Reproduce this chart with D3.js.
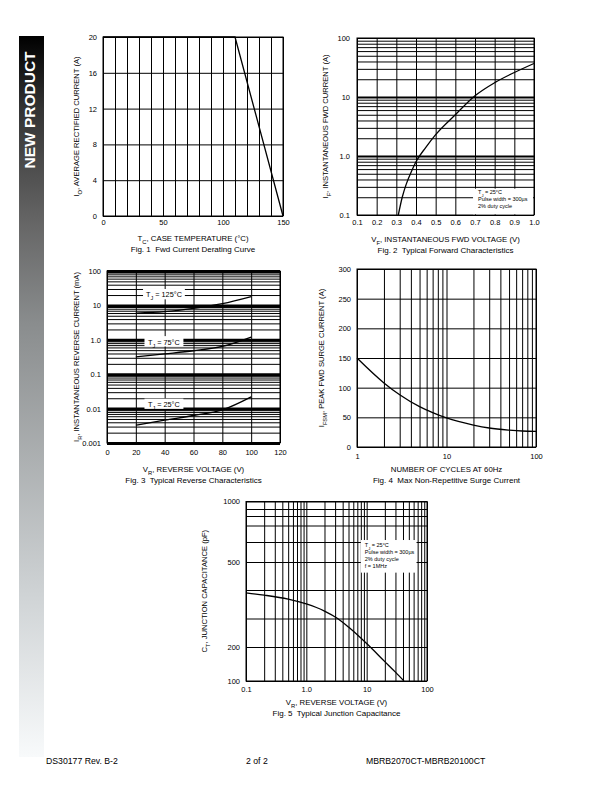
<!DOCTYPE html>
<html>
<head>
<meta charset="utf-8">
<script src="https://cdn.jsdelivr.net/npm/d3@7"></script>
<style>
  body { margin: 0; background: #fff; }
  svg { display: block; font-family: "Liberation Sans", Arial, sans-serif; }
  .tick text { font-size: 7.5px; fill: #000; }
</style>
</head>
<body>
<script>
// ---- data ----
var fig1_temp = [0, 110, 150];
var fig1_io = [20, 20, 0];

var fig2_vf = [0.31, 0.33, 0.35, 0.38, 0.40, 0.45, 0.50, 0.60, 0.70, 0.80, 0.90, 1.00];
var fig2_if = [0.1, 0.2, 0.33, 0.58, 0.8, 1.4, 2.3, 5.0, 10.5, 17.5, 26, 37];

var fig3_vr = [20, 40, 60, 80, 100];
var fig3_125 = [6.0, 6.6, 8.2, 11.2, 18];
var fig3_75 = [0.32, 0.39, 0.48, 0.64, 1.2];
var fig3_25 = [0.0033, 0.0046, 0.0063, 0.0092, 0.022];

var fig4_cycles = [1, 2, 3, 5, 7, 10, 20, 30, 50, 70, 100];
var fig4_ifsm = [150, 108, 88, 68, 58, 49, 37, 32, 28.5, 27, 26.5];

var fig5_vr = [0.1, 0.2, 0.5, 1, 2, 3.3, 5, 10, 20, 30, 41.5];
var fig5_ct = [390, 382, 368, 351, 326, 300, 270, 212, 157, 126, 100];

// tick labels
var fig1_xt = [0, 50, 100, 150], fig1_yt = [0, 4, 8, 12, 16, 20];
var fig2_xt = [0.1, 0.2, 0.3, 0.4, 0.5, 0.6, 0.7, 0.8, 0.9, 1.0], fig2_yt = [0.1, 1, 10, 100];
var fig2_ylab = ["0.1", "1.0", "10", "100"];
var fig3_xt = [0, 20, 40, 60, 80, 100, 120], fig3_yt = [0.001, 0.01, 0.1, 1, 10, 100];
var fig3_ylab = ["0.001", "0.01", "0.1", "1.0", "10", "100"];
var fig4_xt = [1, 10, 100], fig4_yt = [0, 50, 100, 150, 200, 250, 300];
var fig5_xt = [0.1, 1, 10, 100], fig5_xlab = ["0.1", "1.0", "10", "100"], fig5_yt = [100, 200, 500, 1000];
var fig5_ygrid = [100, 200, 300, 400, 500, 600, 700, 800, 900, 1000];

function logGrid(lo, hi) {
    var out = [];
    for (var d = lo; d < hi * 0.999; d *= 10)
        for (var m = 1; m < 10; m++) out.push(d * m);
    out.push(hi);
    return out;
}

var svg = d3.select("body").append("svg").attr("width", 612).attr("height", 792);

// side banner
var grad = svg.append("defs").append("linearGradient").attr("id", "side")
    .attr("x1", 0).attr("y1", 0).attr("x2", 0).attr("y2", 1);
[[0, "#000"], [0.1, "#333"], [0.26, "#666"], [0.4, "#8a8d8e"], [0.78, "#d0d4d6"], [1, "#f8fafb"]]
    .forEach(function (s) { grad.append("stop").attr("offset", s[0]).attr("stop-color", s[1]); });
svg.append("rect").attr("x", 19).attr("y", 36).attr("width", 25).attr("height", 721).attr("fill", "url(#side)");
svg.append("text").attr("transform", "translate(34.5,110) rotate(-90)")
    .attr("text-anchor", "middle").attr("fill", "#fff")
    .style("font-size", "15.5px").style("font-weight", "bold").text("NEW PRODUCT");

// text with subscript: parts = [[text, isSub], ...]
function richText(g, parts, size) {
    parts.forEach(function (p) {
        var t = g.append("tspan").text(p[0]);
        if (p[1]) t.attr("baseline-shift", "sub").style("font-size", (size * 0.75) + "px");
    });
}

function panel(c) {
    var g = svg.append("g");
    var x = c.x, y = c.y;
    var x0 = x.range()[0], x1 = x.range()[x.range().length - 1];
    var y0 = d3.min(y.range()), y1 = d3.max(y.range());

    // grid lines through axes
    g.append("g").attr("transform", "translate(0," + y1 + ")")
        .call(d3.axisBottom(x).tickValues(c.xGrid).tickSize(-(y1 - y0)).tickFormat(""))
        .call(function (s) {
            s.select(".domain").remove();
            s.selectAll("line").attr("stroke", "#000").attr("stroke-width", function (d) { return c.xw ? c.xw(d) : 1; });
        });
    g.append("g").attr("transform", "translate(" + x0 + ",0)")
        .call(d3.axisLeft(y).tickValues(c.yGrid).tickSize(-(x1 - x0)).tickFormat(""))
        .call(function (s) {
            s.select(".domain").remove();
            s.selectAll("line").attr("stroke", "#000").attr("stroke-width", function (d) { return c.yw ? c.yw(d) : 1; });
        });

    g.append("rect").attr("x", x0).attr("y", y0).attr("width", x1 - x0).attr("height", y1 - y0)
        .attr("fill", "none").attr("stroke", "#000").attr("stroke-width", 1);

    // tick labels
    g.append("g").attr("transform", "translate(0," + y1 + ")")
        .call(d3.axisBottom(x).tickValues(c.xt).tickSize(0).tickPadding(c.xpad || 5)
            .tickFormat(function (d, i) { return c.xlab ? c.xlab[i] : d; }))
        .call(function (s) { s.select(".domain").remove(); });
    g.append("g").attr("transform", "translate(" + x0 + ",0)")
        .call(d3.axisLeft(y).tickValues(c.yt).tickSize(0).tickPadding(c.ypad || 5)
            .tickFormat(function (d, i) { return c.ylab ? c.ylab[i] : d; }))
        .call(function (s) { s.select(".domain").remove(); });

    // boxes over the grid
    (c.boxes || []).forEach(function (b) {
        var bx = x(b.x[0]), by = y(b.y[1]);
        g.append("rect").attr("x", bx).attr("y", by)
            .attr("width", x(b.x[1]) - bx).attr("height", y(b.y[0]) - by).attr("fill", "#fff");
        b.lines.forEach(function (ln, i) {
            var t = g.append("text").attr("x", bx + (b.pad || 3)).attr("y", by + b.first + i * b.step)
                .style("font-size", b.size + "px");
            richText(t, ln, b.size);
        });
    });

    // curves
    var line = d3.line().x(function (d) { return x(d[0]); }).y(function (d) { return y(d[1]); })
        .curve(c.curve || d3.curveMonotoneX);
    c.series.forEach(function (s) {
        g.append("path").datum(d3.zip(s.x, s.y)).attr("d", line)
            .attr("fill", "none").attr("stroke", "#000").attr("stroke-width", 1.3);
    });

    // axis titles
    var xt = g.append("text").attr("x", c.xtx || (x0 + x1) / 2).attr("y", c.xty)
        .attr("text-anchor", "middle").style("font-size", "7.8px");
    richText(xt, c.xtitle, 7.8);
    g.append("text").attr("x", c.capx || (x0 + x1) / 2).attr("y", c.xty + 11)
        .attr("text-anchor", "middle").style("font-size", "8px").attr("xml:space", "preserve").text(c.caption);
    var yt = g.append("text").attr("transform", "translate(" + c.ytx + "," + (y0 + y1) / 2 + ") rotate(-90)")
        .attr("text-anchor", "middle").style("font-size", "7.6px");
    richText(yt, c.ytitle, 7.6);
}

// Fig. 1
panel({
    x: d3.scaleLinear().domain([0, 150]).range([103, 283]),
    y: d3.scaleLinear().domain([0, 20]).range([216, 37]),
    xGrid: d3.range(0, 151, 10), yGrid: fig1_yt,
    xt: fig1_xt, yt: fig1_yt, xpad: 4, ypad: 6,
    curve: d3.curveLinear,
    series: [{ x: fig1_temp, y: fig1_io }],
    xtitle: [["T", 0], ["C", 1], [", CASE TEMPERATURE (°C)", 0]], xty: 240.5,
    caption: "Fig. 1  Fwd Current Derating Curve",
    ytitle: [["I", 0], ["O", 1], [", AVERAGE RECTIFIED CURRENT (A)", 0]], ytx: 79
});

// Fig. 2
panel({
    x: d3.scaleLinear().domain([0.1, 1.0]).range([357, 534]),
    y: d3.scaleLog().domain([0.1, 100]).range([215, 38]),
    xGrid: fig2_xt, yGrid: logGrid(0.1, 100),
    yw: function (d) { return [1, 10].indexOf(Math.round(d * 1000) / 1000) >= 0 ? 2 : 1; },
    xt: fig2_xt, yt: fig2_yt, ylab: fig2_ylab, xpad: 5, ypad: 7,
    xlab: fig2_xt.map(function (d) { return d.toFixed(1); }),
    boxes: [{ x: [0.69, 0.995], y: [0.103, 0.28], size: 5.5, first: 5, step: 7, pad: 5,
        lines: [[["T", 0], ["J", 1], [" = 25°C", 0]], [["Pulse width = 300µs", 0]], [["2% duty cycle", 0]]] }],
    series: [{ x: fig2_vf, y: fig2_if }],
    xtitle: [["V", 0], ["F", 1], [", INSTANTANEOUS FWD VOLTAGE (V)", 0]], xty: 241.5,
    caption: "Fig. 2  Typical Forward Characteristics",
    ytitle: [["I", 0], ["F", 1], [", INSTANTANEOUS FWD CURRENT (A)", 0]], ytx: 328
});

// Fig. 3
panel({
    x: d3.scaleLinear().domain([0, 120]).range([107, 280]),
    y: d3.scaleLog().domain([0.001, 100]).range([443, 271]),
    xGrid: fig3_xt, yGrid: logGrid(0.001, 100),
    yw: function (d) { var l = Math.log10(d); return Math.abs(l - Math.round(l)) < 1e-6 ? 3 : 1; },
    xt: fig3_xt, yt: fig3_yt, ylab: fig3_ylab, xpad: 7, ypad: 6,
    boxes: [
        { x: [25, 54], y: [15, 30], size: 7.3, first: 8.5, step: 0, pad: 3,
            lines: [[["T", 0], ["J", 1], [" = 125°C", 0]]] },
        { x: [26, 53], y: [0.64, 1.28], size: 7.3, first: 8.5, step: 0, pad: 3.5,
            lines: [[["T", 0], ["J", 1], [" = 75°C", 0]]] },
        { x: [26, 53], y: [0.0098, 0.0195], size: 7.3, first: 8.5, step: 0, pad: 3.5,
            lines: [[["T", 0], ["J", 1], [" = 25°C", 0]]] }
    ],
    series: [{ x: fig3_vr, y: fig3_125 }, { x: fig3_vr, y: fig3_75 }, { x: fig3_vr, y: fig3_25 }],
    xtitle: [["V", 0], ["R", 1], [", REVERSE VOLTAGE (V)", 0]], xty: 472,
    caption: "Fig. 3  Typical Reverse Characteristics",
    ytitle: [["I", 0], ["R", 1], [", INSTANTANEOUS REVERSE CURRENT (mA)", 0]], ytx: 79
});

// Fig. 4
panel({
    x: d3.scaleLog().domain([1, 100]).range([357, 536]),
    y: d3.scaleLinear().domain([0, 300]).range([447, 269]),
    xGrid: logGrid(1, 100), yGrid: fig4_yt,
    xt: fig4_xt, yt: fig4_yt, xpad: 7, ypad: 6,
    series: [{ x: fig4_cycles, y: fig4_ifsm }],
    xtitle: [["NUMBER OF CYCLES AT 60Hz", 0]], xty: 472,
    caption: "Fig. 4  Max Non-Repetitive Surge Current",
    ytitle: [["I", 0], ["FSM", 1], [", PEAK FWD SURGE CURRENT (A)", 0]], ytx: 324
});

// Fig. 5 (the printed capacitance axis is not a true log scale; grid spacing follows the sheet)
panel({
    x: d3.scaleLog().domain([0.1, 100]).range([246, 427]),
    y: d3.scaleLinear().domain(fig5_ygrid).range([681, 647, 618.5, 590, 562, 542, 525.5, 516, 509, 501.5]),
    xGrid: logGrid(0.1, 100), yGrid: fig5_ygrid,
    xt: fig5_xt, xlab: fig5_xlab, yt: fig5_yt, xpad: 6, ypad: 6,
    boxes: [{ x: [8, 67], y: [462, 612], size: 5.5, first: 6.5, step: 7.2, pad: 4,
        lines: [[["T", 0], ["J", 1], [" = 25°C", 0]], [["Pulse width = 300µs", 0]], [["2% duty cycle", 0]], [["f = 1MHz", 0]]] }],
    series: [{ x: fig5_vr, y: fig5_ct }],
    xtitle: [["V", 0], ["R", 1], [", REVERSE VOLTAGE (V)", 0]], xty: 705,
    caption: "Fig. 5  Typical Junction Capacitance",
    ytitle: [["C", 0], ["T", 1], [", JUNCTION CAPACITANCE (pF)", 0]], ytx: 207
});

// footer
var foot = svg.append("g").style("font-size", "8.7px");
foot.append("text").attr("x", 46).attr("y", 764).text("DS30177 Rev. B-2");
foot.append("text").attr("x", 246).attr("y", 764).text("2 of 2");
foot.append("text").attr("x", 366).attr("y", 764).text("MBRB2070CT-MBRB20100CT");
</script>
</body>
</html>
